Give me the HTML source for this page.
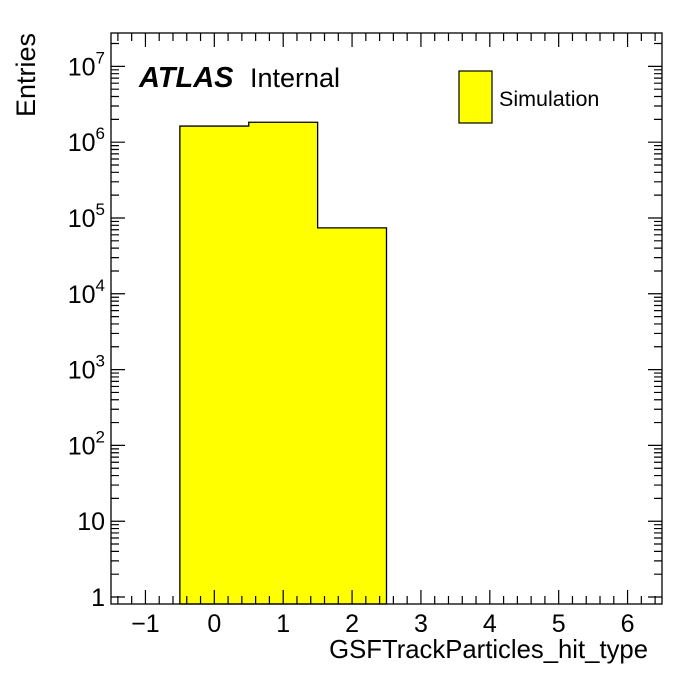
<!DOCTYPE html>
<html><head><meta charset="utf-8"><style>
body{margin:0;background:#fff}
svg text{font-family:"Liberation Sans",sans-serif}
</style></head><body>
<svg id="c" width="696" height="672"></svg>
<script>
const binCenters=[0,1,2];
const binValues=[1.63e6,1.83e6,7.4e4];
const xTicks=[-1,0,1,2,3,4,5,6];
const yExps=[0,1,2,3,4,5,6,7];
const L=111,R=662,T=33,B=604;
const xmin=-1.5,xmax=6.5,lmin=-0.092,lmax=7.44;
const X=v=>L+(v-xmin)/(xmax-xmin)*(R-L);
const Y=v=>B-(Math.log10(v)-lmin)/(lmax-lmin)*(B-T);
const svg=document.getElementById('c');
const NS='http://www.w3.org/2000/svg';
function mk(t,a,p){const e=document.createElementNS(NS,t);for(const k in a)e.setAttribute(k,a[k]);(p||svg).appendChild(e);return e;}
let d='M'+X(binCenters[0]-0.5)+','+B;
binCenters.forEach((c,i)=>{d+=' L'+X(c-0.5)+','+Y(binValues[i])+' L'+X(c+0.5)+','+Y(binValues[i]);});
d+=' L'+X(binCenters[binCenters.length-1]+0.5)+','+B+' Z';
const h=mk('path',{d:d,fill:'#ffff00',stroke:'#000','stroke-width':1.3});


const f=mk('rect',{x:L,y:T,width:R-L,height:B-T,fill:'none',stroke:'#000','stroke-width':1.3});


let td='';
for(let v=-1.4;v<=6.41;v+=0.2){const x=X(v);const maj=Math.abs(v-Math.round(v))<1e-6;const l=maj?14:8;td+=`M${x},${B}v${-l}M${x},${T}v${l}`;}
yExps.forEach(e=>{for(let m=1;m<10;m++){const v=m*Math.pow(10,e);const lg=Math.log10(v);if(lg<lmin||lg>lmax)continue;const y=Y(v);const l=m==1?14:8;td+=`M${L},${y}h${l}M${R},${y}h${-l}`;}});
const tk=mk('path',{d:td,stroke:'#000','stroke-width':1.2,fill:'none'});


xTicks.forEach(v=>{const t=mk('text',{x:X(v),y:632,'font-size':25,'text-anchor':'middle'});t.textContent=v<0?'\u2212'+(-v):String(v);

});
yExps.forEach(e=>{const y=Y(Math.pow(10,e));const t=mk('text',{x:105,y:y+9,'font-size':25,'text-anchor':'end'});
if(e==0)t.textContent='1';else if(e==1)t.textContent='10';else{t.textContent='10';const s=mk('tspan',{dy:-12,'font-size':17},t);s.textContent=String(e);}

});
</script>
<svg style="position:absolute;left:0;top:0" width="696" height="672">
<text x="648" y="658" font-size="25.7" text-anchor="end">GSFTrackParticles_hit_type</text>
<text transform="translate(35,33) rotate(-90)" font-size="27" text-anchor="end">Entries</text>
<text x="139" y="87" font-size="29" font-weight="bold" font-style="italic">ATLAS</text>
<text x="250" y="87" font-size="27">Internal</text>
<rect x="459" y="71" width="33" height="52" fill="#ffff00" stroke="#000" stroke-width="1.2"/>
<text x="499" y="106" font-size="21.5">Simulation</text>
</svg>
</body></html>
